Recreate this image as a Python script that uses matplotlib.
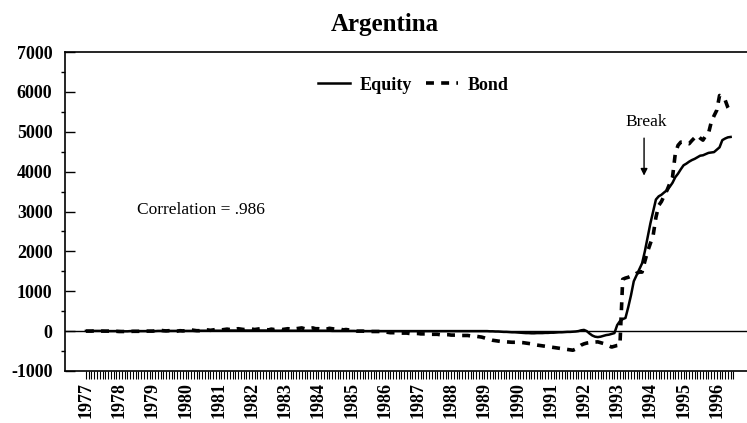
import matplotlib
matplotlib.use("Agg")
import matplotlib.pyplot as plt
import numpy as np

plt.rcParams['font.family'] = ['Liberation Serif', 'DejaVu Serif']
plt.rcParams['axes.unicode_minus'] = False

# monthly index levels, one row per year (Jan..Dec), from Jan 1977
equity = [
    [5, 5, 5, 5, 5, 5, 5, 0, 0, 0, 0, 0],            # 1977
    [0, -5, -5, -5, 0, 0, 0, 0, 0, 0, 0, 0],         # 1978
    [0, 0, 5, 5, 5, 5, 5, 5, 5, 5, 5, 5],            # 1979
    [5, 5, 5, 5, 10, 10, 10, 10, 10, 10, 10, 10],    # 1980
    [10, 10, 10, 15, 15, 15, 15, 15, 15, 15, 15, 15],  # 1981
    [15, 15, 15, 15, 15, 15, 10, 10, 10, 10, 10, 10],  # 1982
    [10, 10, 10, 10, 10, 10, 10, 10, 10, 10, 10, 10],  # 1983
    [10, 10, 10, 10, 10, 5, 5, 5, 5, 5, 5, 5],       # 1984
    [5, 5, 0, 0, 0, 0, 0, 0, 0, 0, 0, 0],            # 1985
    [0, 0, 0, 0, 0, 0, 0, 0, 0, 0, 0, 0],            # 1986
    [0, 0, 0, 0, 0, 0, 0, 0, 0, 0, 0, 0],            # 1987
    [0, 0, 0, 0, 0, 0, 0, 0, 0, 0, 0, 0],            # 1988
    [0, 0, -5, -5, -10, -10, -15, -20, -20, -25, -30, -30],  # 1989
    [-35, -40, -45, -50, -50, -55, -55, -50, -50, -50, -45, -45],  # 1990
    [-40, -40, -35, -30, -30, -25, -20, -20, -15, -10, 0, 20],  # 1991
    [30, 0, -60, -110, -140, -150, -140, -120, -100, -90, -70, -50],  # 1992
    [150, 250, 300, 330, 600, 900, 1250, 1400, 1550, 1700, 2000, 2350],  # 1993
    [2700, 3000, 3300, 3380, 3420, 3480, 3530, 3620, 3720, 3860, 3950, 4060],  # 1994
    [4160, 4200, 4250, 4290, 4320, 4360, 4400, 4410, 4440, 4470, 4480, 4490],  # 1995
    [4550, 4610, 4790, 4830, 4860, 4870],             # 1996
]
bond = [
    [0, 0, 0, 5, 5, 0, 0, 0, 0, 0, -5, -5],          # 1977
    [-10, -10, -10, -10, -10, -5, -5, -5, 0, 0, 0, 0],  # 1978
    [0, 5, 10, 20, 10, 5, 10, 5, 0, 0, 10, 5],       # 1979
    [10, 20, 30, 20, 10, 10, 20, 30, 30, 20, 30, 40],  # 1980
    [40, 30, 40, 50, 40, 30, 40, 60, 50, 40, 50, 60],  # 1981
    [50, 40, 50, 60, 50, 40, 30, 50, 40, 50, 60, 40],  # 1982
    [50, 60, 50, 40, 60, 70, 80, 60, 50, 70, 80, 60],  # 1983
    [60, 50, 40, 50, 70, 60, 50, 40, 50, 30, 40, 30],  # 1984
    [20, 10, 0, 0, 0, -5, -5, -10, -10, -10, -10, -10],  # 1985
    [-20, -30, -40, -40, -40, -50, -50, -50, -50, -60, -60, -60],  # 1986
    [-60, -70, -70, -70, -70, -80, -80, -80, -90, -90, -90, -90],  # 1987
    [-100, -100, -100, -110, -110, -110, -110, -120, -120, -130, -140, -150],  # 1988
    [-170, -190, -210, -230, -240, -250, -260, -265, -270, -275, -280, -280],  # 1989
    [-280, -285, -290, -300, -310, -320, -340, -350, -360, -370, -380, -390],  # 1990
    [-400, -410, -420, -430, -440, -450, -460, -470, -480, -450, -400, -350],  # 1991
    [-320, -300, -290, -280, -275, -270, -290, -310, -330, -370, -400, -380],  # 1992
    [-360, -350, 1300, 1330, 1350, 1380, 1400, 1450, 1480, 1480, 1750, 2000],  # 1993
    [2200, 2400, 2850, 3150, 3250, 3400, 3530, 3700, 3860, 4450, 4660, 4740],  # 1994
    [4740, 4720, 4700, 4780, 4850, 4910, 4840, 4790, 4900, 4960, 5240, 5400],  # 1995
    [5540, 5910, 5880, 5800, 5610, 5490],             # 1996
]
years = list(range(1977, 1997))
yticks = [-1000, 0, 1000, 2000, 3000, 4000, 5000, 6000, 7000]

eq = np.concatenate([np.array(r, float) for r in equity])
bd = np.concatenate([np.array(r, float) for r in bond])
t_eq = 1977 + np.arange(len(eq)) / 12.0
t_bd = 1977 + np.arange(len(bd)) / 12.0

fig = plt.figure(figsize=(7.47, 4.23), dpi=100)
ax = fig.add_axes([0.087, 0.123, 0.913, 0.754])

ax.axhline(0, color='black', lw=1.0, zorder=1)
ax.plot(t_eq, eq, color='black', lw=1.8, label='Equity', zorder=3)
ax.plot(t_bd, bd, color='black', lw=2.6, ls=(0, (2.2, 2.0)), label='Bond', zorder=2)

ax.set_xlim(1976.37, 1996.91)
ax.set_ylim(-1000, 7000)

ax.set_yticks(yticks)
ax.set_yticks(np.arange(-500, 7000, 1000), minor=True)
ax.tick_params(axis='y', which='major', direction='in', length=7, width=1, pad=9,
               labelsize=13)
ax.tick_params(axis='y', which='minor', direction='out', length=3, width=1)
for lab in ax.get_yticklabels():
    lab.set_fontweight('bold')

ax.set_xticks(years)
ax.set_xticklabels([str(y) for y in years], rotation=90, fontweight='bold', fontsize=13)
ax.set_xticks(1977 + np.arange(0, 19 * 12 + 7) / 12.0, minor=True)
ax.tick_params(axis='x', which='both', direction='out', length=6, width=0.8, pad=2)

ax.spines['right'].set_visible(False)
for s in ['left', 'top', 'bottom']:
    ax.spines[s].set_linewidth(1.2)

ax.text(1978.54, 3030, 'Correlation = .986', ha='left', va='center', fontsize=12.5)
ax.text(1993.87, 5240, 'Break', ha='center', va='center', fontsize=12.5)
ax.annotate('', xy=(1993.81, 3830), xytext=(1993.81, 4910),
            arrowprops=dict(arrowstyle='-|>', color='black', lw=1, mutation_scale=10))

leg = ax.legend(loc='center', bbox_to_anchor=(0.5529, 0.799), bbox_transform=fig.transFigure,
                ncol=2, frameon=False, handlelength=1.8, handletextpad=0.5,
                columnspacing=0.8, prop={'weight': 'bold', 'size': 13})

fig.text(385 / 747, 1 - 31 / 423, 'Argentina', ha='center', va='baseline',
         fontsize=18, fontweight='bold')

fig.savefig('out.png', dpi=100)
